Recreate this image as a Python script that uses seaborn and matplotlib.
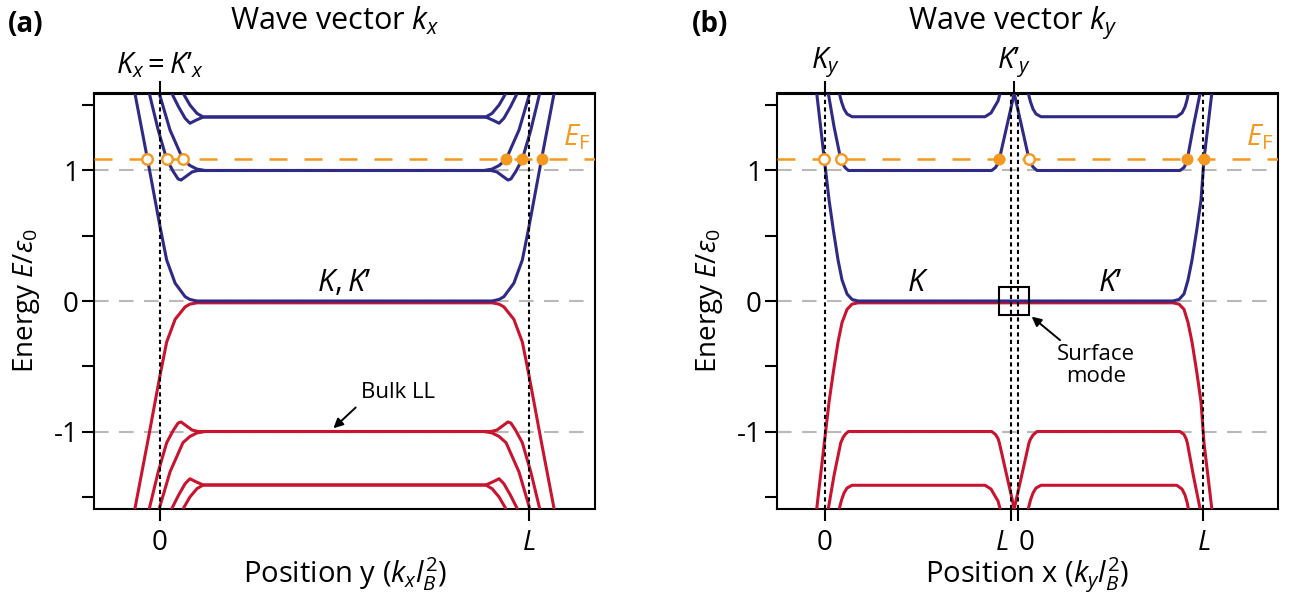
import matplotlib
matplotlib.use("Agg")
import matplotlib.pyplot as plt
from matplotlib.patches import Rectangle
import seaborn as sns

# ── data ─────────────────────────────────────────────────────────────────────
E_FERMI = 1.086
GRID_LEVELS = [-1.0, 0.0, 1.0]

# panel (a): bands vs position y, x in units of L
A_N0_X = [-0.068, -0.034, -0.022, 0.0, 0.018, 0.041, 0.068, 0.081, 0.100,
          0.900, 0.919, 0.932, 0.959, 0.982, 1.0, 1.022, 1.034, 1.068]
A_N0_E = [1.59, 1.086, 0.904, 0.569, 0.314, 0.136, 0.033, 0.012, 0.0,
          0.0, 0.012, 0.033, 0.136, 0.314, 0.569, 0.904, 1.086, 1.59]
A_N0_E_RED = [-1.59, -1.086, -0.904, -0.569, -0.314, -0.140, -0.045, -0.024, -0.014,
              -0.014, -0.024, -0.045, -0.140, -0.314, -0.569, -0.904, -1.086, -1.59]

A_N1A_X = [-0.029, -0.005, 0.018, 0.036, 0.049, 0.057, 0.072, 0.087, 0.103, 0.122,
           0.878, 0.897, 0.913, 0.928, 0.943, 0.951, 0.964, 0.982, 1.005, 1.029]
A_N1A_E = [1.59, 1.31, 1.086, 0.991, 0.935, 0.927, 0.958, 0.989, 1.0, 1.0,
           1.0, 1.0, 0.989, 0.958, 0.927, 0.935, 0.991, 1.086, 1.31, 1.59]
A_N1A_E_RED = [-1.59, -1.31, -1.086, -0.991, -0.935, -0.927, -0.958, -0.989, -1.0, -1.0,
               -1.0, -1.0, -0.989, -0.958, -0.927, -0.935, -0.991, -1.086, -1.31, -1.59]

A_N1B_X = [-0.002, 0.027, 0.062, 0.081, 0.100, 0.122,
           0.878, 0.900, 0.919, 0.938, 0.973, 1.002]
A_N1B_E = [1.59, 1.31, 1.086, 1.038, 1.011, 1.0,
           1.0, 1.011, 1.038, 1.086, 1.31, 1.59]
A_N1B_E_RED = [-1.59, -1.31, -1.086, -1.038, -1.011, -1.0,
               -1.0, -1.011, -1.038, -1.086, -1.31, -1.59]

A_N2A_X = [0.032, 0.050, 0.068, 0.081, 0.095, 0.117, 0.140,
           0.860, 0.883, 0.905, 0.919, 0.932, 0.950, 0.968]
A_N2A_E = [1.59, 1.489, 1.40, 1.362, 1.382, 1.41, 1.41,
           1.41, 1.41, 1.382, 1.362, 1.40, 1.489, 1.59]
A_N2A_E_RED = [-1.59, -1.489, -1.40, -1.362, -1.382, -1.41, -1.41,
               -1.41, -1.41, -1.382, -1.362, -1.40, -1.489, -1.59]

A_N2B_X = [0.063, 0.081, 0.100, 0.117, 0.883, 0.900, 0.919, 0.937]
A_N2B_E = [1.59, 1.502, 1.438, 1.41, 1.41, 1.438, 1.502, 1.59]
A_N2B_E_RED = [-1.59, -1.502, -1.438, -1.41, -1.41, -1.438, -1.502, -1.59]

A_OPEN_X = [-0.034, 0.018, 0.062]
A_FILLED_X = [0.938, 0.982, 1.034]

# panel (b): bands vs position x, two samples side by side
B_N0_X = [-0.0447, -0.0038, 0.0216, 0.0447, 0.0701, 0.0916, 0.1186, 0.1456, 0.1779,
          1.876, 1.9084, 1.9353, 1.9569, 1.9784, 2.004, 2.027, 2.043, 2.085]
B_N0_E = [1.59, 1.086, 0.774, 0.544, 0.314, 0.161, 0.054, 0.012, 0.0,
          0.0, 0.012, 0.054, 0.161, 0.314, 0.544, 0.774, 1.086, 1.59]
B_N0_E_RED = [-1.59, -1.086, -0.774, -0.544, -0.314, -0.165, -0.064, -0.024, -0.014,
              -0.014, -0.024, -0.064, -0.165, -0.314, -0.544, -0.774, -1.086, -1.59]

B_N1_X = [0.0178, 0.0485, 0.0846, 0.0987, 0.1105, 0.1256,
          0.8986, 0.9191, 0.9326, 0.9396, 0.9795, 1.02]
B_N1_E = [1.59, 1.336, 1.086, 1.042, 1.019, 1.0,
          1.0, 1.023, 1.054, 1.086, 1.336, 1.59]
B_N1_E_RED = [-1.59, -1.336, -1.086, -1.042, -1.019, -1.0,
              -1.0, -1.023, -1.054, -1.086, -1.336, -1.59]

B_N1_2_X = [1.02, 1.0604, 1.0997, 1.1078, 1.1213, 1.1429,
            1.9137, 1.9353, 1.9461, 1.9531, 1.9855, 2.0216]
B_N1_2_E = [1.59, 1.336, 1.086, 1.058, 1.027, 1.0,
            1.0, 1.023, 1.054, 1.086, 1.336, 1.59]
B_N1_2_E_RED = [-1.59, -1.336, -1.086, -1.058, -1.027, -1.0,
                -1.0, -1.023, -1.054, -1.086, -1.336, -1.59]

B_N2_X = [0.0771, 0.0890, 0.1024, 0.1186, 0.1456, 0.8625, 0.8949, 0.9164, 0.9326, 0.9434]
B_N2_E = [1.59, 1.525, 1.471, 1.433, 1.412, 1.412, 1.441, 1.494, 1.533, 1.59]
B_N2_E_RED = [-1.59, -1.525, -1.471, -1.433, -1.412, -1.412, -1.441, -1.494, -1.533, -1.59]

B_N2_2_X = [1.0960, 1.1078, 1.1213, 1.1375, 1.1644, 1.8960, 1.9245, 1.9407, 1.9515, 1.9585]
B_N2_2_E = [1.59, 1.525, 1.471, 1.433, 1.412, 1.412, 1.441, 1.487, 1.540, 1.59]
B_N2_2_E_RED = [-1.59, -1.525, -1.471, -1.433, -1.412, -1.412, -1.441, -1.487, -1.540, -1.59]

B_OPEN_X = [-0.004, 0.085, 1.100]
B_FILLED_X = [0.940, 1.953, 2.043]

A_EDGES = [0.0, 1.0]
B_EDGES = [0.0, 1.0, 1.04, 2.04]

# ── style ────────────────────────────────────────────────────────────────────
BLUE = "#2f2a85"
RED = "#c8142f"
ORANGE = "#f5981f"
GRAY = "#b9b9b9"
FS = 20

sns.set_theme(style="white")
plt.rcParams["font.family"] = ["Open Sans", "DejaVu Sans"]
plt.rcParams["mathtext.fontset"] = "custom"
plt.rcParams["mathtext.rm"] = "Open Sans"
plt.rcParams["mathtext.it"] = "Open Sans:italic"
plt.rcParams["mathtext.bf"] = "Open Sans:bold"
for key in ("text.color", "axes.labelcolor", "xtick.color", "ytick.color"):
    plt.rcParams[key] = "black"
plt.rcParams["axes.linewidth"] = 1.5
plt.rcParams["axes.edgecolor"] = "black"


def _band(ax, xs, es, color):
    sns.lineplot(x=xs, y=es, sort=False, estimator=None, color=color,
                 linewidth=2.2, ax=ax, zorder=3)


def _base(ax, xlim, edges):
    ax.set_xlim(*xlim)
    ax.set_ylim(-1.59, 1.59)
    for lev in GRID_LEVELS:
        ax.axhline(lev, color=GRAY, lw=1.5, ls=(0, (7.0, 5.0)), zorder=1)
    for x0 in edges:
        ax.axvline(x0, color="black", lw=1.5, ls=(0, (2.0, 1.6)), zorder=4)
    ax.axhline(E_FERMI, color=ORANGE, lw=1.8, ls=(0, (7.2, 6.8)), zorder=5)
    ax.set_yticks([-1.5, -1, -0.5, 0, 0.5, 1, 1.5],
                  labels=["", "-1", "", "0", "", "1", ""])
    ax.tick_params(axis="both", which="both", direction="out", length=8.8,
                   width=1.5, color="black", labelcolor="black", labelsize=FS,
                   left=True, bottom=True)
    ax.tick_params(axis="y", pad=2)
    ax.tick_params(axis="x", pad=6)
    ax.set_ylabel(r"Energy $E/\varepsilon_0$", fontsize=FS)
    ax.yaxis.set_label_coords(-0.104, 0.5)
    for s in ax.spines.values():
        s.set_visible(True)
        s.set_color("black")
        s.set_linewidth(1.5)


def _fermi_points(ax, open_x, filled_x):
    ax.plot(open_x, [E_FERMI] * len(open_x), ls="none", marker="o", ms=7.6,
            mew=1.7, mfc="white", mec=ORANGE, zorder=6)
    ax.plot(filled_x, [E_FERMI] * len(filled_x), ls="none", marker="o", ms=8.6,
            mew=0, mfc=ORANGE, zorder=6)


fig = plt.figure(figsize=(12.92, 5.96), dpi=100)
ax_a = fig.add_axes([94 / 1292, 87.5 / 596, 501 / 1292, 415 / 596])
ax_b = fig.add_axes([777 / 1292, 87.5 / 596, 501 / 1292, 415 / 596])

# ── panel (a) ────────────────────────────────────────────────────────────────
_base(ax_a, (-0.179, 1.179), A_EDGES)
for xs, es, er in [(A_N0_X, A_N0_E, A_N0_E_RED), (A_N1A_X, A_N1A_E, A_N1A_E_RED),
                   (A_N1B_X, A_N1B_E, A_N1B_E_RED), (A_N2A_X, A_N2A_E, A_N2A_E_RED),
                   (A_N2B_X, A_N2B_E, A_N2B_E_RED)]:
    _band(ax_a, xs, er, RED)
    _band(ax_a, xs, es, BLUE)
_fermi_points(ax_a, A_OPEN_X, A_FILLED_X)
ax_a.set_xticks(A_EDGES, labels=["0", "$L$"])
ax_a.set_xlabel(r"Position y ($k_x l_B^2$)", fontsize=FS + 1)
ax_a.xaxis.set_label_coords(0.5, -0.112)
top_a = ax_a.secondary_xaxis("top")
top_a.set_xticks([0.0], labels=[r"$K_x = K’_x$"])
top_a.tick_params(direction="out", length=8.8, width=1.5, labelsize=FS + 1,
                  pad=1, colors="black")
ax_a.text(0.5, 0.075, r"$K,K’$", fontsize=22, ha="center", va="baseline", zorder=7)
ax_a.text(1.165, 1.195, r"$E_\mathrm{F}$", fontsize=21, color=ORANGE,
          ha="right", va="baseline", zorder=7)
ax_a.annotate("Bulk LL", xy=(0.470, -0.975), xytext=(0.645, -0.74),
              fontsize=16, ha="center", va="baseline", zorder=7,
              arrowprops=dict(arrowstyle="-|>", color="black", lw=1.4,
                              mutation_scale=14, shrinkA=2, shrinkB=0,
                              relpos=(0.0, 0.0)))
ax_a.text(0.48, 1.153, r"Wave vector $k_x$", transform=ax_a.transAxes,
          fontsize=FS + 2, ha="center", va="baseline")
fig.text(8 / 1292, 1 - 32 / 596, "(a)", fontsize=FS, fontweight="bold")

# ── panel (b) ────────────────────────────────────────────────────────────────
_base(ax_b, (-0.259, 2.442), B_EDGES)
for xs, es, er in [(B_N0_X, B_N0_E, B_N0_E_RED), (B_N1_X, B_N1_E, B_N1_E_RED),
                   (B_N1_2_X, B_N1_2_E, B_N1_2_E_RED), (B_N2_X, B_N2_E, B_N2_E_RED),
                   (B_N2_2_X, B_N2_2_E, B_N2_2_E_RED)]:
    _band(ax_b, xs, er, RED)
    _band(ax_b, xs, es, BLUE)
_fermi_points(ax_b, B_OPEN_X, B_FILLED_X)
ax_b.set_xticks(B_EDGES, labels=["0", "", "", "$L$"])
ax_b.set_xticks([0.953, 1.087], labels=["$L$", "0"], minor=True)
ax_b.tick_params(axis="x", which="minor", length=0, pad=6 + 8.8, labelsize=FS)
ax_b.set_xlabel(r"Position x ($k_y l_B^2$)", fontsize=FS + 1)
ax_b.xaxis.set_label_coords(0.5, -0.112)
top_b = ax_b.secondary_xaxis("top")
top_b.set_xticks([0.0, 1.02], labels=[r"$K_y$", r"$K’_y$"])
top_b.tick_params(direction="out", length=8.8, width=1.5, labelsize=FS + 1,
                  pad=1, colors="black")
ax_b.text(0.5, 0.075, r"$K$", fontsize=22, ha="center", va="baseline", zorder=7)
ax_b.text(1.536, 0.075, r"$K’$", fontsize=22, ha="center", va="baseline", zorder=7)
ax_b.text(2.415, 1.195, r"$E_\mathrm{F}$", fontsize=21, color=ORANGE,
          ha="right", va="baseline", zorder=7)
ax_b.add_patch(Rectangle((0.939, -0.105), 0.162, 0.21, fill=False,
                         edgecolor="black", lw=1.5, zorder=7))
ax_b.annotate("", xy=(1.114, -0.12), xytext=(1.267, -0.30), zorder=7,
              arrowprops=dict(arrowstyle="-|>", color="black", lw=1.4,
                              mutation_scale=14, shrinkA=0, shrinkB=0))
ax_b.text(1.461, -0.33, "Surface\nmode", fontsize=16, ha="center", va="top",
          multialignment="center", linespacing=1.05, zorder=7)
ax_b.text(0.47, 1.153, r"Wave vector $k_y$", transform=ax_b.transAxes,
          fontsize=FS + 2, ha="center", va="baseline")
fig.text(692 / 1292, 1 - 32 / 596, "(b)", fontsize=FS, fontweight="bold")

fig.savefig("out.png", dpi=100)
